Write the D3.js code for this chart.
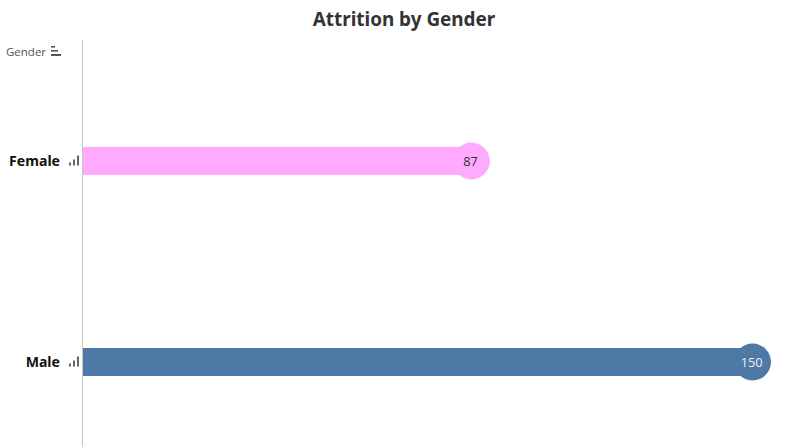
<!DOCTYPE html>
<html><head><meta charset="utf-8">
<script src="https://cdn.jsdelivr.net/npm/d3@7"></script>
<style>html,body{margin:0;padding:0;background:#fff}svg{display:block}</style>
</head><body><svg id="c" width="800" height="447"></svg>
<script>
const categories = ["Female", "Male"];
const values = [87, 150];
const colors = ["#ffa9ff", "#4e79a7"];
const labelColors = ["#333333", "#f0f0f0"];
const titleText = "Attrition by Gender";
const axisTitle = "Gender";
const headerIconWidths = [4, 7, 10];
const rowIconHeights = [3, 6, 10];

const svg = d3.select("#c");
const x = d3.scaleLinear().domain([0, 150]).range([83, 752.5]);
const y = d3.scaleBand().domain(categories).range([60.5, 462.5]);
const cy = d => y(d) + y.bandwidth() / 2;

svg.append("text").attr("x", 404).attr("y", 26).attr("text-anchor", "middle")
  .attr("font-family", "'Noto Sans'").attr("font-weight", 700).attr("font-size", 18.9)
  .attr("fill", "#333333").text(titleText);

svg.append("line").attr("x1", 82.5).attr("x2", 82.5).attr("y1", 40).attr("y2", 447)
  .attr("stroke", "#c8c8c8").attr("stroke-width", 1);

svg.append("text").attr("x", 6).attr("y", 56).attr("font-family", "'Open Sans'")
  .attr("font-size", 11.5).attr("fill", "#555555").text(axisTitle);
headerIconWidths.forEach((w, i) => {
  svg.append("rect").attr("x", 51).attr("y", 46 + i * 4).attr("height", 2 - (i === 2 ? 0 : 0.4))
    .attr("width", w).attr("fill", "#555555");
});

const g = svg.selectAll("g.row").data(categories).join("g").attr("class", "row");
g.append("rect").attr("x", x(0)).attr("y", d => cy(d) - 14).attr("height", 28)
  .attr("width", (d, i) => x(values[i]) - x(0)).attr("fill", (d, i) => colors[i]);
g.append("circle").attr("cx", (d, i) => x(values[i])).attr("cy", d => cy(d)).attr("r", 18.5)
  .attr("fill", (d, i) => colors[i]);
g.append("text").attr("x", (d, i) => x(values[i]) - 0.8).attr("y", d => cy(d) + 4.5)
  .attr("text-anchor", "middle").attr("font-family", "'Open Sans'").attr("font-size", 12.8)
  .attr("fill", (d, i) => labelColors[i]).text((d, i) => values[i]);
g.append("text").attr("x", 60).attr("y", d => cy(d) + 4.8).attr("text-anchor", "end")
  .attr("font-family", "'Noto Sans'").attr("font-weight", 700).attr("font-size", 14.1)
  .attr("fill", "#111111").text(d => d);
g.each(function (d) {
  const s = d3.select(this), c = cy(d);
  rowIconHeights.forEach((h, i) => {
    s.append("rect").attr("x", 69 + i * 4).attr("y", c + 4.5 - h).attr("width", 2).attr("height", h)
      .attr("fill", "#666666");
  });
});
</script></body></html>
